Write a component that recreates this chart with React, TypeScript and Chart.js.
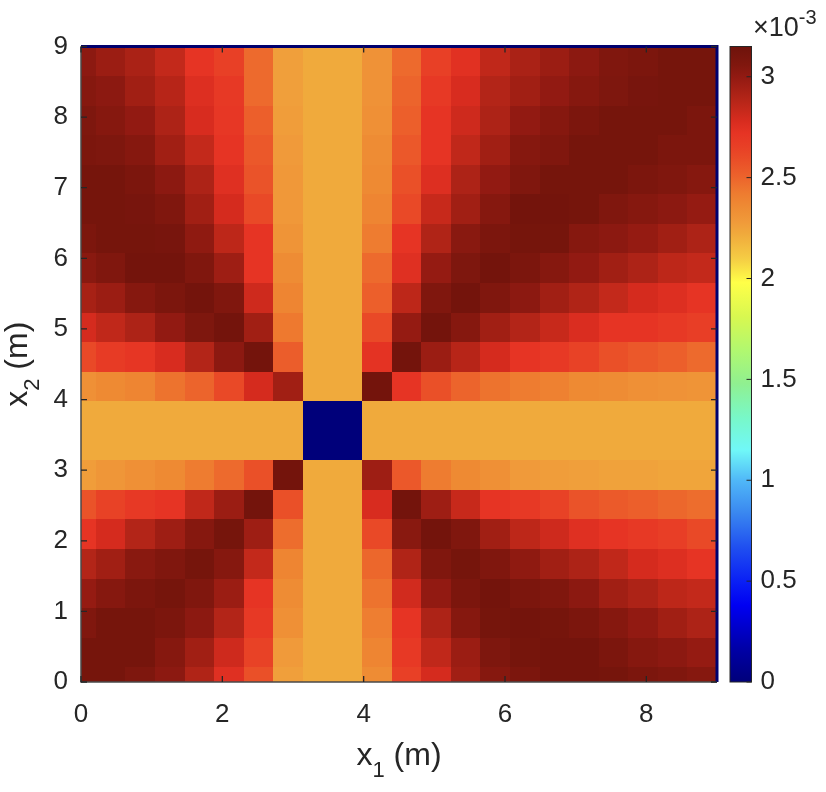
import React, { useEffect, useRef } from "react";
import { Chart, registerables } from "chart.js";

Chart.register(...registerables);

// Grid node positions (m) along x1 and x2
const X1_NODES = [0.0, 0.419, 0.837, 1.256, 1.674, 2.093, 2.512, 2.93, 3.349, 3.767, 4.186, 4.605, 5.023, 5.442, 5.86, 6.279, 6.698, 7.116, 7.535, 7.953, 8.372, 8.791];
const X2_NODES = [0.0, 0.419, 0.837, 1.256, 1.674, 2.093, 2.512, 2.93, 3.349, 3.767, 4.186, 4.605, 5.023, 5.442, 5.86, 6.279, 6.698, 7.116, 7.535, 7.953, 8.372, 8.791];

// Field values in units of 1e-3, one row per x2 node (row00 at x2 = 0), columns follow X1_NODES
const row00 = [3.11, 3.11, 3.07, 3.02, 2.9, 2.75, 2.58, 2.26, 2.22, 2.22, 2.35, 2.65, 2.79, 2.95, 3.04, 3.08, 3.12, 3.12, 3.11, 3.08, 3.06, 3.04];
const row01 = [3.11, 3.11, 3.11, 3.04, 2.95, 2.81, 2.64, 2.28, 2.22, 2.22, 2.38, 2.69, 2.85, 2.97, 3.07, 3.11, 3.12, 3.12, 3.08, 3.04, 3.02, 2.99];
const row02 = [3.06, 3.11, 3.11, 3.08, 3.02, 2.89, 2.69, 2.33, 2.22, 2.22, 2.41, 2.72, 2.91, 3.04, 3.11, 3.12, 3.11, 3.08, 3.04, 3.0, 2.95, 2.91];
const row03 = [2.99, 3.04, 3.08, 3.11, 3.06, 2.97, 2.72, 2.35, 2.22, 2.22, 2.45, 2.8, 3.0, 3.08, 3.12, 3.08, 3.06, 3.02, 2.95, 2.91, 2.86, 2.84];
const row04 = [2.89, 2.95, 3.03, 3.06, 3.11, 3.04, 2.84, 2.38, 2.22, 2.22, 2.49, 2.9, 3.06, 3.11, 3.06, 3.01, 2.95, 2.91, 2.85, 2.79, 2.76, 2.72];
const row05 = [2.72, 2.79, 2.89, 2.96, 3.04, 3.11, 2.96, 2.47, 2.22, 2.22, 2.61, 3.03, 3.12, 3.06, 2.95, 2.86, 2.81, 2.75, 2.72, 2.69, 2.66, 2.61];
const row06 = [2.57, 2.64, 2.69, 2.72, 2.85, 2.97, 3.12, 2.58, 2.22, 2.22, 2.78, 3.12, 2.96, 2.83, 2.72, 2.69, 2.64, 2.57, 2.54, 2.52, 2.49, 2.47];
const row07 = [2.27, 2.3, 2.33, 2.36, 2.42, 2.48, 2.58, 3.12, 2.22, 2.22, 2.96, 2.55, 2.42, 2.36, 2.33, 2.28, 2.27, 2.26, 2.25, 2.25, 2.24, 2.24];
const row08 = [2.22, 2.22, 2.22, 2.22, 2.22, 2.22, 2.22, 2.22, 0.0, 0.0, 2.22, 2.22, 2.22, 2.22, 2.22, 2.22, 2.22, 2.22, 2.22, 2.22, 2.22, 2.22];
const row09 = [2.22, 2.22, 2.22, 2.22, 2.22, 2.22, 2.22, 2.22, 0.0, 0.0, 2.22, 2.22, 2.22, 2.22, 2.22, 2.22, 2.22, 2.22, 2.22, 2.22, 2.22, 2.22];
const row10 = [2.33, 2.36, 2.38, 2.45, 2.5, 2.61, 2.79, 2.95, 2.22, 2.22, 3.12, 2.72, 2.58, 2.5, 2.45, 2.42, 2.4, 2.36, 2.35, 2.33, 2.32, 2.31];
const row11 = [2.61, 2.68, 2.71, 2.78, 2.89, 3.02, 3.12, 2.53, 2.22, 2.22, 2.73, 3.12, 2.97, 2.88, 2.79, 2.72, 2.69, 2.64, 2.58, 2.55, 2.52, 2.48];
const row12 = [2.79, 2.85, 2.91, 3.0, 3.07, 3.12, 2.95, 2.43, 2.22, 2.22, 2.61, 2.99, 3.12, 3.04, 2.95, 2.89, 2.83, 2.77, 2.72, 2.72, 2.69, 2.66];
const row13 = [2.93, 2.97, 3.04, 3.08, 3.12, 3.06, 2.81, 2.38, 2.22, 2.22, 2.52, 2.86, 3.06, 3.12, 3.06, 3.02, 2.95, 2.9, 2.84, 2.79, 2.76, 2.72];
const row14 = [3.03, 3.06, 3.12, 3.12, 3.06, 2.96, 2.72, 2.35, 2.22, 2.22, 2.48, 2.75, 2.99, 3.07, 3.12, 3.08, 3.04, 3.0, 2.95, 2.91, 2.86, 2.84];
const row15 = [3.08, 3.11, 3.11, 3.1, 3.01, 2.86, 2.72, 2.31, 2.22, 2.22, 2.42, 2.72, 2.9, 3.03, 3.08, 3.11, 3.11, 3.04, 3.02, 2.99, 2.95, 2.91];
const row16 = [3.11, 3.11, 3.1, 3.06, 2.95, 2.79, 2.61, 2.29, 2.22, 2.22, 2.38, 2.61, 2.83, 2.95, 3.04, 3.12, 3.12, 3.11, 3.06, 3.04, 3.02, 2.99];
const row17 = [3.11, 3.11, 3.08, 3.02, 2.91, 2.75, 2.57, 2.29, 2.22, 2.22, 2.36, 2.58, 2.76, 2.91, 3.0, 3.06, 3.11, 3.11, 3.11, 3.08, 3.06, 3.04];
const row18 = [3.08, 3.07, 3.04, 2.95, 2.84, 2.72, 2.55, 2.28, 2.22, 2.22, 2.35, 2.55, 2.72, 2.85, 2.95, 3.04, 3.06, 3.11, 3.11, 3.11, 3.08, 3.08];
const row19 = [3.07, 3.04, 3.0, 2.91, 2.78, 2.7, 2.52, 2.27, 2.22, 2.22, 2.33, 2.52, 2.72, 2.81, 2.91, 3.0, 3.04, 3.08, 3.11, 3.11, 3.11, 3.08];
const row20 = [3.04, 3.02, 2.95, 2.88, 2.76, 2.69, 2.48, 2.26, 2.22, 2.22, 2.32, 2.5, 2.69, 2.78, 2.89, 2.95, 3.0, 3.04, 3.07, 3.1, 3.11, 3.11];
const row21 = [3.02, 2.97, 2.92, 2.84, 2.72, 2.65, 2.48, 2.26, 2.22, 2.22, 2.32, 2.48, 2.65, 2.74, 2.85, 2.92, 2.97, 3.02, 3.06, 3.08, 3.11, 3.11];

const FIELD_ROWS = [
  row00, row01, row02, row03, row04, row05, row06, row07, row08, row09, row10,
  row11, row12, row13, row14, row15, row16, row17, row18, row19, row20, row21,
];

// Axis ranges and tick values
const X1_RANGE = [0, 9];
const X2_RANGE = [0, 9];
const X1_TICKS = [0, 2, 4, 6, 8];
const X2_TICKS = [0, 1, 2, 3, 4, 5, 6, 7, 8, 9];
const CBAR_RANGE = [0, 3.15];
const CBAR_TICKS = [0, 0.5, 1, 1.5, 2, 2.5, 3];

// Colour map (value in 1e-3 -> colour)
const CMAP_VALUES = [0.0, 0.17, 0.38, 0.5, 0.67, 0.84, 1.0, 1.15, 1.31, 1.48, 1.64, 1.81, 1.98, 2.1, 2.22, 2.28, 2.35, 2.42, 2.5, 2.58, 2.65, 2.72, 2.78, 2.85, 2.92, 3.0, 3.06, 3.15];
const CMAP_COLORS = ["#00007a", "#0000a8", "#0000f2", "#0a20f5", "#2050f0", "#3a88f0", "#50b8f8", "#70f8f8", "#78f8c8", "#90f090", "#b0f870", "#d8f850", "#ffff48", "#f5cc44", "#f0aa3c", "#f09a3a", "#ee8c34", "#ee7c30", "#ec642c", "#ea5028", "#e84026", "#e63424", "#d82c1f", "#c0281a", "#aa2216", "#921a12", "#80170e", "#6e130b"];

const FONT = "'Liberation Sans', Arial, Helvetica, sans-serif";
const INK = "#262626";

type Cell = { x: number; y: number; v: number; x0: number; x1: number; y0: number; y1: number };

function hexToRgb(h: string): number[] {
  return [1, 3, 5].map((i) => parseInt(h.slice(i, i + 2), 16));
}

function colorFor(v: number): string {
  const n = CMAP_VALUES.length;
  if (v <= CMAP_VALUES[0]) return CMAP_COLORS[0];
  if (v >= CMAP_VALUES[n - 1]) return CMAP_COLORS[n - 1];
  let k = 0;
  while (k < n - 2 && v > CMAP_VALUES[k + 1]) k++;
  const t = (v - CMAP_VALUES[k]) / (CMAP_VALUES[k + 1] - CMAP_VALUES[k]);
  const a = hexToRgb(CMAP_COLORS[k]);
  const b = hexToRgb(CMAP_COLORS[k + 1]);
  const c = a.map((ai, i) => Math.round(ai + (b[i] - ai) * t));
  return `rgb(${c[0]},${c[1]},${c[2]})`;
}

function nodeEdges(nodes: number[]): number[] {
  const e: number[] = [];
  e.push(nodes[0] - (nodes[1] - nodes[0]) / 2);
  for (let i = 1; i < nodes.length; i++) e.push((nodes[i - 1] + nodes[i]) / 2);
  const m = nodes.length - 1;
  e.push(nodes[m] + (nodes[m] - nodes[m - 1]) / 2);
  return e;
}

function buildCells(): Cell[] {
  const ex = nodeEdges(X1_NODES);
  const ey = nodeEdges(X2_NODES);
  const cells: Cell[] = [];
  FIELD_ROWS.forEach((row, j) => {
    row.forEach((v, i) => {
      cells.push({ x: X1_NODES[i], y: X2_NODES[j], v, x0: ex[i], x1: ex[i + 1], y0: ey[j], y1: ey[j + 1] });
    });
  });
  return cells;
}

// Draws "base" + subscript + "rest" centred on (cx, baseline)
function drawSubscripted(ctx: CanvasRenderingContext2D, base: string, sub: string, rest: string, cx: number, baseY: number) {
  const big = `32px ${FONT}`;
  const small = `22px ${FONT}`;
  ctx.font = big;
  const wb = ctx.measureText(base).width;
  const wr = ctx.measureText(rest).width;
  ctx.font = small;
  const ws = ctx.measureText(sub).width;
  let x = cx - (wb + ws + wr) / 2;
  ctx.textAlign = "left";
  ctx.textBaseline = "alphabetic";
  ctx.fillStyle = INK;
  ctx.font = big;
  ctx.fillText(base, x, baseY);
  x += wb;
  ctx.font = small;
  ctx.fillText(sub, x, baseY + 12);
  x += ws;
  ctx.font = big;
  ctx.fillText(rest, x, baseY);
}

const heatmapPlugin = {
  id: "heatmapCells",
  beforeDatasetsDraw(chart: any) {
    const { ctx, chartArea: a, scales } = chart;
    const xs = scales.x;
    const ys = scales.y;
    const cells = chart.data.datasets[0].data as Cell[];
    ctx.save();
    ctx.beginPath();
    ctx.rect(a.left, a.top, a.right - a.left, a.bottom - a.top);
    ctx.clip();
    for (const c of cells) {
      const l = Math.round(xs.getPixelForValue(c.x0));
      const r = Math.round(xs.getPixelForValue(c.x1));
      const t = Math.round(ys.getPixelForValue(c.y1));
      const b = Math.round(ys.getPixelForValue(c.y0));
      ctx.fillStyle = colorFor(c.v);
      ctx.fillRect(l, t, r - l, b - t);
    }
    ctx.restore();
  },
  afterDatasetsDraw(chart: any) {
    const { ctx, chartArea: a, scales } = chart;
    const xs = scales.x;
    const ys = scales.y;
    const cb = scales.cb;
    ctx.save();

    // axes frame
    ctx.lineWidth = 1.5;
    ctx.strokeStyle = "#4a4a4a";
    ctx.beginPath();
    ctx.moveTo(a.left, a.top);
    ctx.lineTo(a.left, a.bottom);
    ctx.lineTo(a.right, a.bottom);
    ctx.stroke();
    ctx.lineWidth = 3;
    ctx.strokeStyle = "#00006e";
    ctx.beginPath();
    ctx.moveTo(a.left, a.top);
    ctx.lineTo(a.right, a.top);
    ctx.lineTo(a.right, a.bottom);
    ctx.stroke();

    // inward tick marks
    ctx.lineWidth = 1.3;
    ctx.strokeStyle = INK;
    const tl = 6;
    ctx.beginPath();
    for (const v of X1_TICKS) {
      const px = xs.getPixelForValue(v);
      ctx.moveTo(px, a.bottom);
      ctx.lineTo(px, a.bottom - tl);
      ctx.moveTo(px, a.top);
      ctx.lineTo(px, a.top + tl);
    }
    for (const v of X2_TICKS) {
      const py = ys.getPixelForValue(v);
      ctx.moveTo(a.left, py);
      ctx.lineTo(a.left + tl, py);
      ctx.moveTo(a.right, py);
      ctx.lineTo(a.right - tl, py);
    }
    ctx.stroke();

    // colour bar
    const barL = cb.left + 13;
    const barW = 21.5;
    const top = cb.getPixelForValue(CBAR_RANGE[1]);
    const bot = cb.getPixelForValue(CBAR_RANGE[0]);
    const grad = ctx.createLinearGradient(0, bot, 0, top);
    CMAP_VALUES.forEach((v, i) => {
      const f = (cb.getPixelForValue(v) - bot) / (top - bot);
      grad.addColorStop(Math.min(1, Math.max(0, f)), CMAP_COLORS[i]);
    });
    ctx.fillStyle = grad;
    ctx.fillRect(barL, top, barW, bot - top);
    ctx.lineWidth = 1;
    ctx.strokeStyle = INK;
    ctx.strokeRect(barL, top, barW, bot - top);
    ctx.beginPath();
    for (const v of CBAR_TICKS) {
      const py = cb.getPixelForValue(v);
      ctx.moveTo(barL + barW, py);
      ctx.lineTo(barL + barW - 5, py);
    }
    ctx.stroke();

    // colour bar exponent
    ctx.fillStyle = INK;
    ctx.textAlign = "left";
    ctx.textBaseline = "alphabetic";
    ctx.font = `27px ${FONT}`;
    const mult = "\u00d710";
    ctx.fillText(mult, barL + 23, top - 11);
    const wm = ctx.measureText(mult).width;
    ctx.font = `20px ${FONT}`;
    ctx.fillText("-3", barL + 23 + wm, top - 23);

    // axis titles
    drawSubscripted(ctx, "x", "1", " (m)", (a.left + a.right) / 2, a.bottom + 83);
    ctx.translate(a.left - 54, (a.top + a.bottom) / 2);
    ctx.rotate(-Math.PI / 2);
    drawSubscripted(ctx, "x", "2", " (m)", 0, 0);

    ctx.restore();
  },
};

function setTicks(values: number[]) {
  return (scale: any) => {
    scale.ticks = values.map((value) => ({ value }));
  };
}

const plainLabel = (v: number | string) => String(v);

export default function App() {
  const canvasRef = useRef<HTMLCanvasElement | null>(null);

  useEffect(() => {
    const canvas = canvasRef.current;
    if (!canvas) return;
    const tickFont = { family: FONT, size: 26 };
    const chart = new Chart(canvas, {
      type: "scatter",
      data: {
        datasets: [
          {
            label: "field",
            data: buildCells() as any,
            pointRadius: 0,
            pointHoverRadius: 0,
          },
        ],
      },
      options: {
        animation: false,
        responsive: false,
        events: [],
        layout: { padding: { top: 46.5, left: 0, right: 0, bottom: 0 } },
        plugins: { legend: { display: false }, tooltip: { enabled: false } },
        scales: {
          x: {
            type: "linear",
            position: "bottom",
            min: X1_RANGE[0],
            max: X1_RANGE[1],
            grid: { display: false, drawTicks: false },
            border: { display: false },
            afterBuildTicks: setTicks(X1_TICKS),
            ticks: { padding: 17, color: INK, font: tickFont, maxRotation: 0, autoSkip: false, callback: plainLabel },
            afterFit: (s: any) => {
              s.height = 110;
              s.paddingLeft = 0;
              s.paddingRight = 0;
            },
          },
          y: {
            type: "linear",
            position: "left",
            min: X2_RANGE[0],
            max: X2_RANGE[1],
            grid: { display: false, drawTicks: false },
            border: { display: false },
            afterBuildTicks: setTicks(X2_TICKS),
            ticks: { padding: 13, color: INK, font: tickFont, autoSkip: false, callback: plainLabel },
            afterFit: (s: any) => {
              s.width = 81;
              s.paddingTop = 0;
              s.paddingBottom = 0;
            },
          },
          cb: {
            type: "linear",
            position: "right",
            min: CBAR_RANGE[0],
            max: CBAR_RANGE[1],
            grid: { display: false, drawTicks: false },
            border: { display: false },
            afterBuildTicks: setTicks(CBAR_TICKS),
            ticks: { padding: 43.5, color: INK, font: tickFont, autoSkip: false, callback: plainLabel },
            afterFit: (s: any) => {
              s.width = 109;
              s.paddingTop = 0;
              s.paddingBottom = 0;
            },
          },
        },
      } as any,
      plugins: [heatmapPlugin],
    });
    return () => chart.destroy();
  }, []);

  return (
    <div style={{ position: "fixed", left: 0, top: 0, width: 826, height: 792, background: "#ffffff" }}>
      <canvas ref={canvasRef} width={826} height={792} style={{ width: 826, height: 792, display: "block" }} />
    </div>
  );
}
